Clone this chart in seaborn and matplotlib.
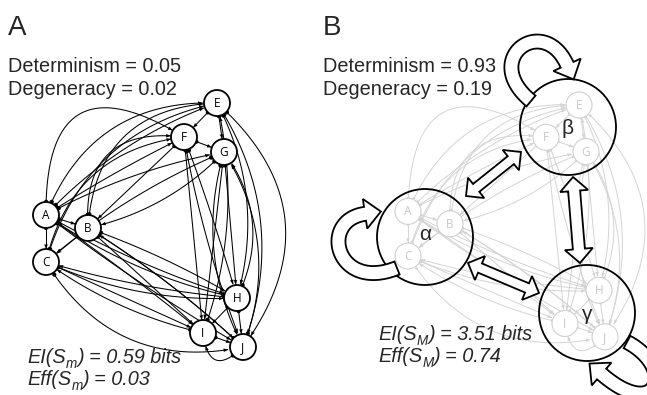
import numpy as np
import matplotlib
matplotlib.use("Agg")
import matplotlib.pyplot as plt
from matplotlib.patches import Circle, Polygon
import seaborn as sns
import pandas as pd

# ---------------- data ----------------
node_names = ['A', 'B', 'C', 'E', 'F', 'G', 'H', 'I', 'J']
edge_src = ['A', 'B', 'A', 'E', 'E', 'F', 'H', 'H', 'I',
            'A', 'A', 'A', 'A', 'A', 'B', 'B', 'C', 'C',
            'F', 'G', 'G', 'F', 'F', 'F', 'G', 'G',
            'E', 'E', 'E', 'J', 'I', 'H',
            'A', 'A', 'A', 'B', 'B', 'B', 'C', 'C', 'C',
            'H', 'J', 'H', 'J', 'I', 'G']
edge_dst = ['B', 'C', 'C', 'F', 'G', 'G', 'I', 'J', 'J',
            'E', 'E', 'F', 'F', 'G', 'E', 'F', 'E', 'F',
            'B', 'C', 'B', 'I', 'H', 'J', 'I', 'H',
            'H', 'J', 'J', 'G', 'E', 'G',
            'H', 'I', 'J', 'H', 'I', 'J', 'H', 'I', 'J',
            'C', 'I', 'A', 'B', 'C', 'J']
edge_bend = [0.0, 0.0, 0.0, 0.0, 0.0, 0.0, 0.0, 0.0, 0.0,
             0.35, 0.12, 0.9, 0.03, 0.08, 0.45, 0.6, 0.3, 0.35,
             0.0, -0.08, 0.15, 0.0, 0.02, -0.05, 0.0, 0.0,
             0.2, 0.25, 0.45, -0.25, -0.15, -0.3,
             -0.05, 0.02, -0.03, 0.05, 0.0, 0.05, -0.12, 0.0, -0.35,
             0.05, 1.0, 0.1, -0.05, 0.1, -0.2]
macro_names = ['α', 'β', 'γ']
panel_labels = ['A', 'B']
determinism = [0.05, 0.93]
degeneracy = [0.02, 0.19]
ei_bits = [0.59, 3.51]
eff = [0.03, 0.74]
state_sub = ['m', 'M']

# ---------------- layout (pixel coordinates, y down) ----------------
pos_A = {'A': (46, 215), 'B': (88, 228), 'C': (46, 262), 'E': (217, 103),
         'F': (184, 137), 'G': (224, 152), 'H': (237, 298), 'I': (203, 333),
         'J': (243, 347)}
pos_B = {k: (v[0] + 362, 105 + (v[1] - 103) * 0.95) for k, v in pos_A.items()}
macro_pos = {'α': (425, 237), 'β': (568, 127), 'γ': (587, 313)}
R_NODE = 13
R_MACRO = 48

sns.set_theme(style="white")
plt.rcParams['font.family'] = ['Liberation Sans', 'DejaVu Sans']

fig = plt.figure(figsize=(6.47, 3.95), dpi=100)
ax = fig.add_axes([0, 0, 1, 1])
ax.set_xlim(0, 647)
ax.set_ylim(395, 0)
ax.axis('off')


def quad_curve(p0, p2, rad, n=120):
    p0 = np.asarray(p0, float)
    p2 = np.asarray(p2, float)
    m = (p0 + p2) / 2
    d = p2 - p0
    c = np.array([m[0] + rad * d[1], m[1] - rad * d[0]])
    t = np.linspace(0, 1, n)[:, None]
    return (1 - t) ** 2 * p0 + 2 * (1 - t) * t * c + t ** 2 * p2


def draw_network(pos, color, lw, node_ec, text_color, head=True, z=2):
    dots = []
    heads = []
    for s, d, r in zip(edge_src, edge_dst, edge_bend):
        p0 = np.array(pos[s]); p2 = np.array(pos[d])
        pts = quad_curve(p0, p2, r)
        keep = (np.hypot(*(pts - p0).T) > R_NODE) & (np.hypot(*(pts - p2).T) > R_NODE)
        pts = pts[keep]
        if len(pts) < 3:
            continue
        ax.plot(pts[:, 0], pts[:, 1], color=color, lw=lw, zorder=z, solid_capstyle='butt')
        dots.append(pts[0])
        tip = pts[-1]
        v = pts[-1] - pts[-4]
        v = v / np.linalg.norm(v)
        nrm = np.array([-v[1], v[0]])
        hl, hw = 4.5, 1.8
        base = tip - v * hl
        heads.append([tip, base + nrm * hw, base - nrm * hw])
    for h in heads:
        ax.add_patch(Polygon(h, closed=True, fc=color, ec='none', zorder=z + 0.1))
    dots = np.array(dots)
    df = pd.DataFrame({'x': dots[:, 0], 'y': dots[:, 1]})
    sns.scatterplot(data=df, x='x', y='y', ax=ax, s=9 if head else 4, color=color,
                    edgecolor='none', zorder=z + 0.2, legend=False)
    for name in node_names:
        x, y = pos[name]
        ax.add_patch(Circle((x, y), R_NODE, fc='white', ec=node_ec, lw=1.3 if head else 0.8,
                            zorder=z + 1))
        ax.text(x, y + 0.5, name, ha='center', va='center', fontsize=8.5, color=text_color,
                family='Open Sans', zorder=z + 2)


def fat_arrow(pts, w, hw, hl, start_head=False, end_head=True, z=6):
    pts = np.asarray(pts, float)
    seg = np.hypot(*np.diff(pts, axis=0).T)
    s = np.concatenate([[0], np.cumsum(seg)])
    L = s[-1]
    s0 = hl if start_head else 0
    s1 = L - hl if end_head else L
    ss = np.linspace(s0, s1, 200)
    c = np.column_stack([np.interp(ss, s, pts[:, 0]), np.interp(ss, s, pts[:, 1])])
    tg = np.gradient(c, axis=0)
    tg /= np.linalg.norm(tg, axis=1)[:, None]
    n = np.column_stack([-tg[:, 1], tg[:, 0]])
    left = c + n * w / 2
    right = c - n * w / 2
    poly = list(left)
    if end_head:
        tip = c[-1] + tg[-1] * hl
        poly += [c[-1] + n[-1] * hw / 2, tip, c[-1] - n[-1] * hw / 2]
    poly += list(right[::-1])
    if start_head:
        tip = c[0] - tg[0] * hl
        poly += [c[0] - n[0] * hw / 2, tip, c[0] + n[0] * hw / 2]
    ax.add_patch(Polygon(poly, closed=True, fc='white', ec='black', lw=1.3,
                         joinstyle='miter', zorder=z))


def cubic(p0, p1, p2, p3, n=200):
    p0, p1, p2, p3 = [np.asarray(p, float) for p in (p0, p1, p2, p3)]
    t = np.linspace(0, 1, n)[:, None]
    return ((1 - t) ** 3 * p0 + 3 * (1 - t) ** 2 * t * p1 + 3 * (1 - t) * t ** 2 * p2
            + t ** 3 * p3)


def sub_text(x, y, pre, sub, post, fs=14.3):
    t1 = ax.text(x, y, pre, fontsize=fs, style='italic', va='baseline', zorder=8)
    t2 = ax.annotate(sub, xy=(1, 0), xycoords=t1, xytext=(0.3, -3.2),
                     textcoords='offset points', fontsize=fs * 0.68, style='italic',
                     va='bottom', ha='left', zorder=8)
    ax.annotate(post, xy=(1, 0), xycoords=(t2, t1), xytext=(0.3, 0),
                textcoords='offset points', fontsize=fs, style='italic',
                va='bottom', ha='left', zorder=8)


# ---------------- panel A ----------------
draw_network(pos_A, 'black', 0.75, 'black', 'black', head=True, z=2)

# ---------------- panel B ----------------
draw_network(pos_B, '#d4d4d4', 0.7, '#d0d0d0', '#c8c8c8', head=False, z=1)
for name in macro_names:
    x, y = macro_pos[name]
    ax.add_patch(Circle((x, y), R_MACRO, fc='none', ec='black', lw=1.3, zorder=5))
ax.text(macro_pos['α'][0], macro_pos['α'][1] - 2, 'α', ha='center', va='center', fontsize=15, zorder=7)
ax.text(macro_pos['β'][0], macro_pos['β'][1] + 2, 'β', ha='center', va='center', fontsize=15, zorder=7)
ax.text(macro_pos['γ'][0], macro_pos['γ'][1] + 1, 'γ', ha='center', va='center', fontsize=15, zorder=7)

# transitions between macro states
fat_arrow([(466, 196), (521, 152)], 10, 26, 13, start_head=True, end_head=True)
fat_arrow([(468, 263), (539, 293)], 10, 26, 13, start_head=True, end_head=True)
fat_arrow([(573, 177), (580, 263)], 12, 28, 14, start_head=True, end_head=True)
# self loops
fat_arrow(cubic((531, 101), (475, 55), (555, 5), (572, 80)), 14, 30, 16)
fat_arrow(cubic((397, 268), (330, 295), (315, 205), (381, 214)), 14, 30, 16)
fat_arrow(cubic((627, 342), (680, 370), (655, 430), (590, 363)), 14, 30, 16)

# ---------------- texts ----------------
panel_x = [8, 323]
for i in range(2):
    x0 = panel_x[i]
    ax.text(x0, 35, panel_labels[i], fontsize=20, va='baseline', ha='left')
    ax.text(x0, 72, f'Determinism = {determinism[i]:.2f}', fontsize=14.3, va='baseline')
    ax.text(x0, 95, f'Degeneracy = {degeneracy[i]:.2f}', fontsize=14.3, va='baseline')

ei_xy = [(27, 363), (378, 340)]
for i in range(2):
    x0, y0 = ei_xy[i]
    sub_text(x0, y0, 'EI(S', state_sub[i], f') = {ei_bits[i]:.2f} bits')
    sub_text(x0, y0 + 22, 'Eff(S', state_sub[i], f') = {eff[i]:.2f}')

fig.savefig('out.png', dpi=100)
